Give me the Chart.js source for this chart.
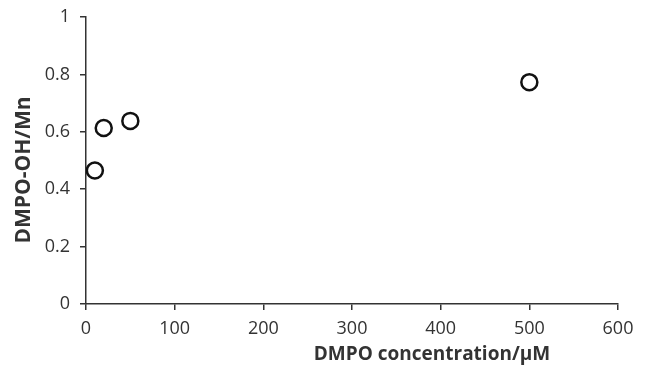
<!DOCTYPE html>
<html>
<head>
<meta charset="utf-8">
<script src="https://cdn.jsdelivr.net/npm/chart.js@4"></script>
<style>
  html, body { margin: 0; padding: 0; background: #fff; }
  #wrap { width: 649px; height: 370px; }
</style>
</head>
<body>
<div id="wrap"><canvas id="chart"></canvas></div>
<script>
// DMPO concentration (uM) vs DMPO-OH/Mn
const concentration = [10, 20, 50, 500];
const ratio = [0.465, 0.613, 0.638, 0.773];
const xTicks = [0, 100, 200, 300, 400, 500, 600];
const yTicks = [0, 0.2, 0.4, 0.6, 0.8, 1];
const xTitle = 'DMPO concentration/\u03bcM';
const yTitle = 'DMPO-OH/Mn';

const fontFamily = '"Open Sans", "Noto Sans", sans-serif';
const inkColor = '#333333';

// axis titles sit off-centre like the original, so draw them by hand
const axisTitles = {
    id: 'axisTitles',
    afterDraw(chart) {
        const ctx = chart.ctx;
        ctx.save();
        ctx.fillStyle = inkColor;
        ctx.textAlign = 'center';
        ctx.textBaseline = 'middle';
        ctx.font = 'bold 19px ' + fontFamily;
        ctx.fillText(xTitle, 432, 355);
        ctx.font = 'bold 21px ' + fontFamily;
        ctx.translate(24, 170);
        ctx.rotate(-Math.PI / 2);
        ctx.fillText(yTitle, 0, 0);
        ctx.restore();
    }
};

new Chart(document.getElementById('chart'), {
    type: 'scatter',
    data: {
        datasets: [{
            label: yTitle,
            data: concentration.map((c, i) => ({ x: c, y: ratio[i] })),
            pointRadius: 8,
            pointHoverRadius: 8,
            pointBorderWidth: 2.5,
            pointBorderColor: '#111111',
            pointBackgroundColor: '#ffffff'
        }]
    },
    options: {
        responsive: true,
        maintainAspectRatio: false,
        animation: false,
        layout: { padding: { top: 17, right: 31, left: 0, bottom: 0 } },
        plugins: {
            legend: { display: false },
            tooltip: { enabled: false }
        },
        scales: {
            x: {
                type: 'linear',
                min: 0,
                max: 600,
                afterBuildTicks(scale) {
                    scale.ticks = xTicks.map(v => ({ value: v }));
                },
                afterFit(scale) {
                    scale.height = 66;
                    scale.paddingLeft = 0;
                    scale.paddingRight = 0;
                },
                grid: {
                    drawOnChartArea: false,
                    drawTicks: true,
                    tickLength: 6,
                    color: inkColor,
                    lineWidth: 1.5
                },
                border: { color: inkColor, width: 1.5 },
                ticks: {
                    color: inkColor,
                    font: { family: fontFamily, size: 18 },
                    padding: 8,
                    maxRotation: 0
                }
            },
            y: {
                min: 0,
                max: 1,
                afterBuildTicks(scale) {
                    scale.ticks = yTicks.map(v => ({ value: v }));
                },
                afterFit(scale) {
                    scale.width = 86;
                    scale.paddingTop = 0;
                    scale.paddingBottom = 0;
                },
                grid: {
                    drawOnChartArea: false,
                    drawTicks: true,
                    tickLength: 6,
                    color: inkColor,
                    lineWidth: 1.5
                },
                border: { color: inkColor, width: 1.5 },
                ticks: {
                    color: inkColor,
                    font: { family: fontFamily, size: 18 },
                    padding: 10,
                    callback: v => String(v)
                }
            }
        }
    },
    plugins: [axisTitles]
});
</script>
</body>
</html>
